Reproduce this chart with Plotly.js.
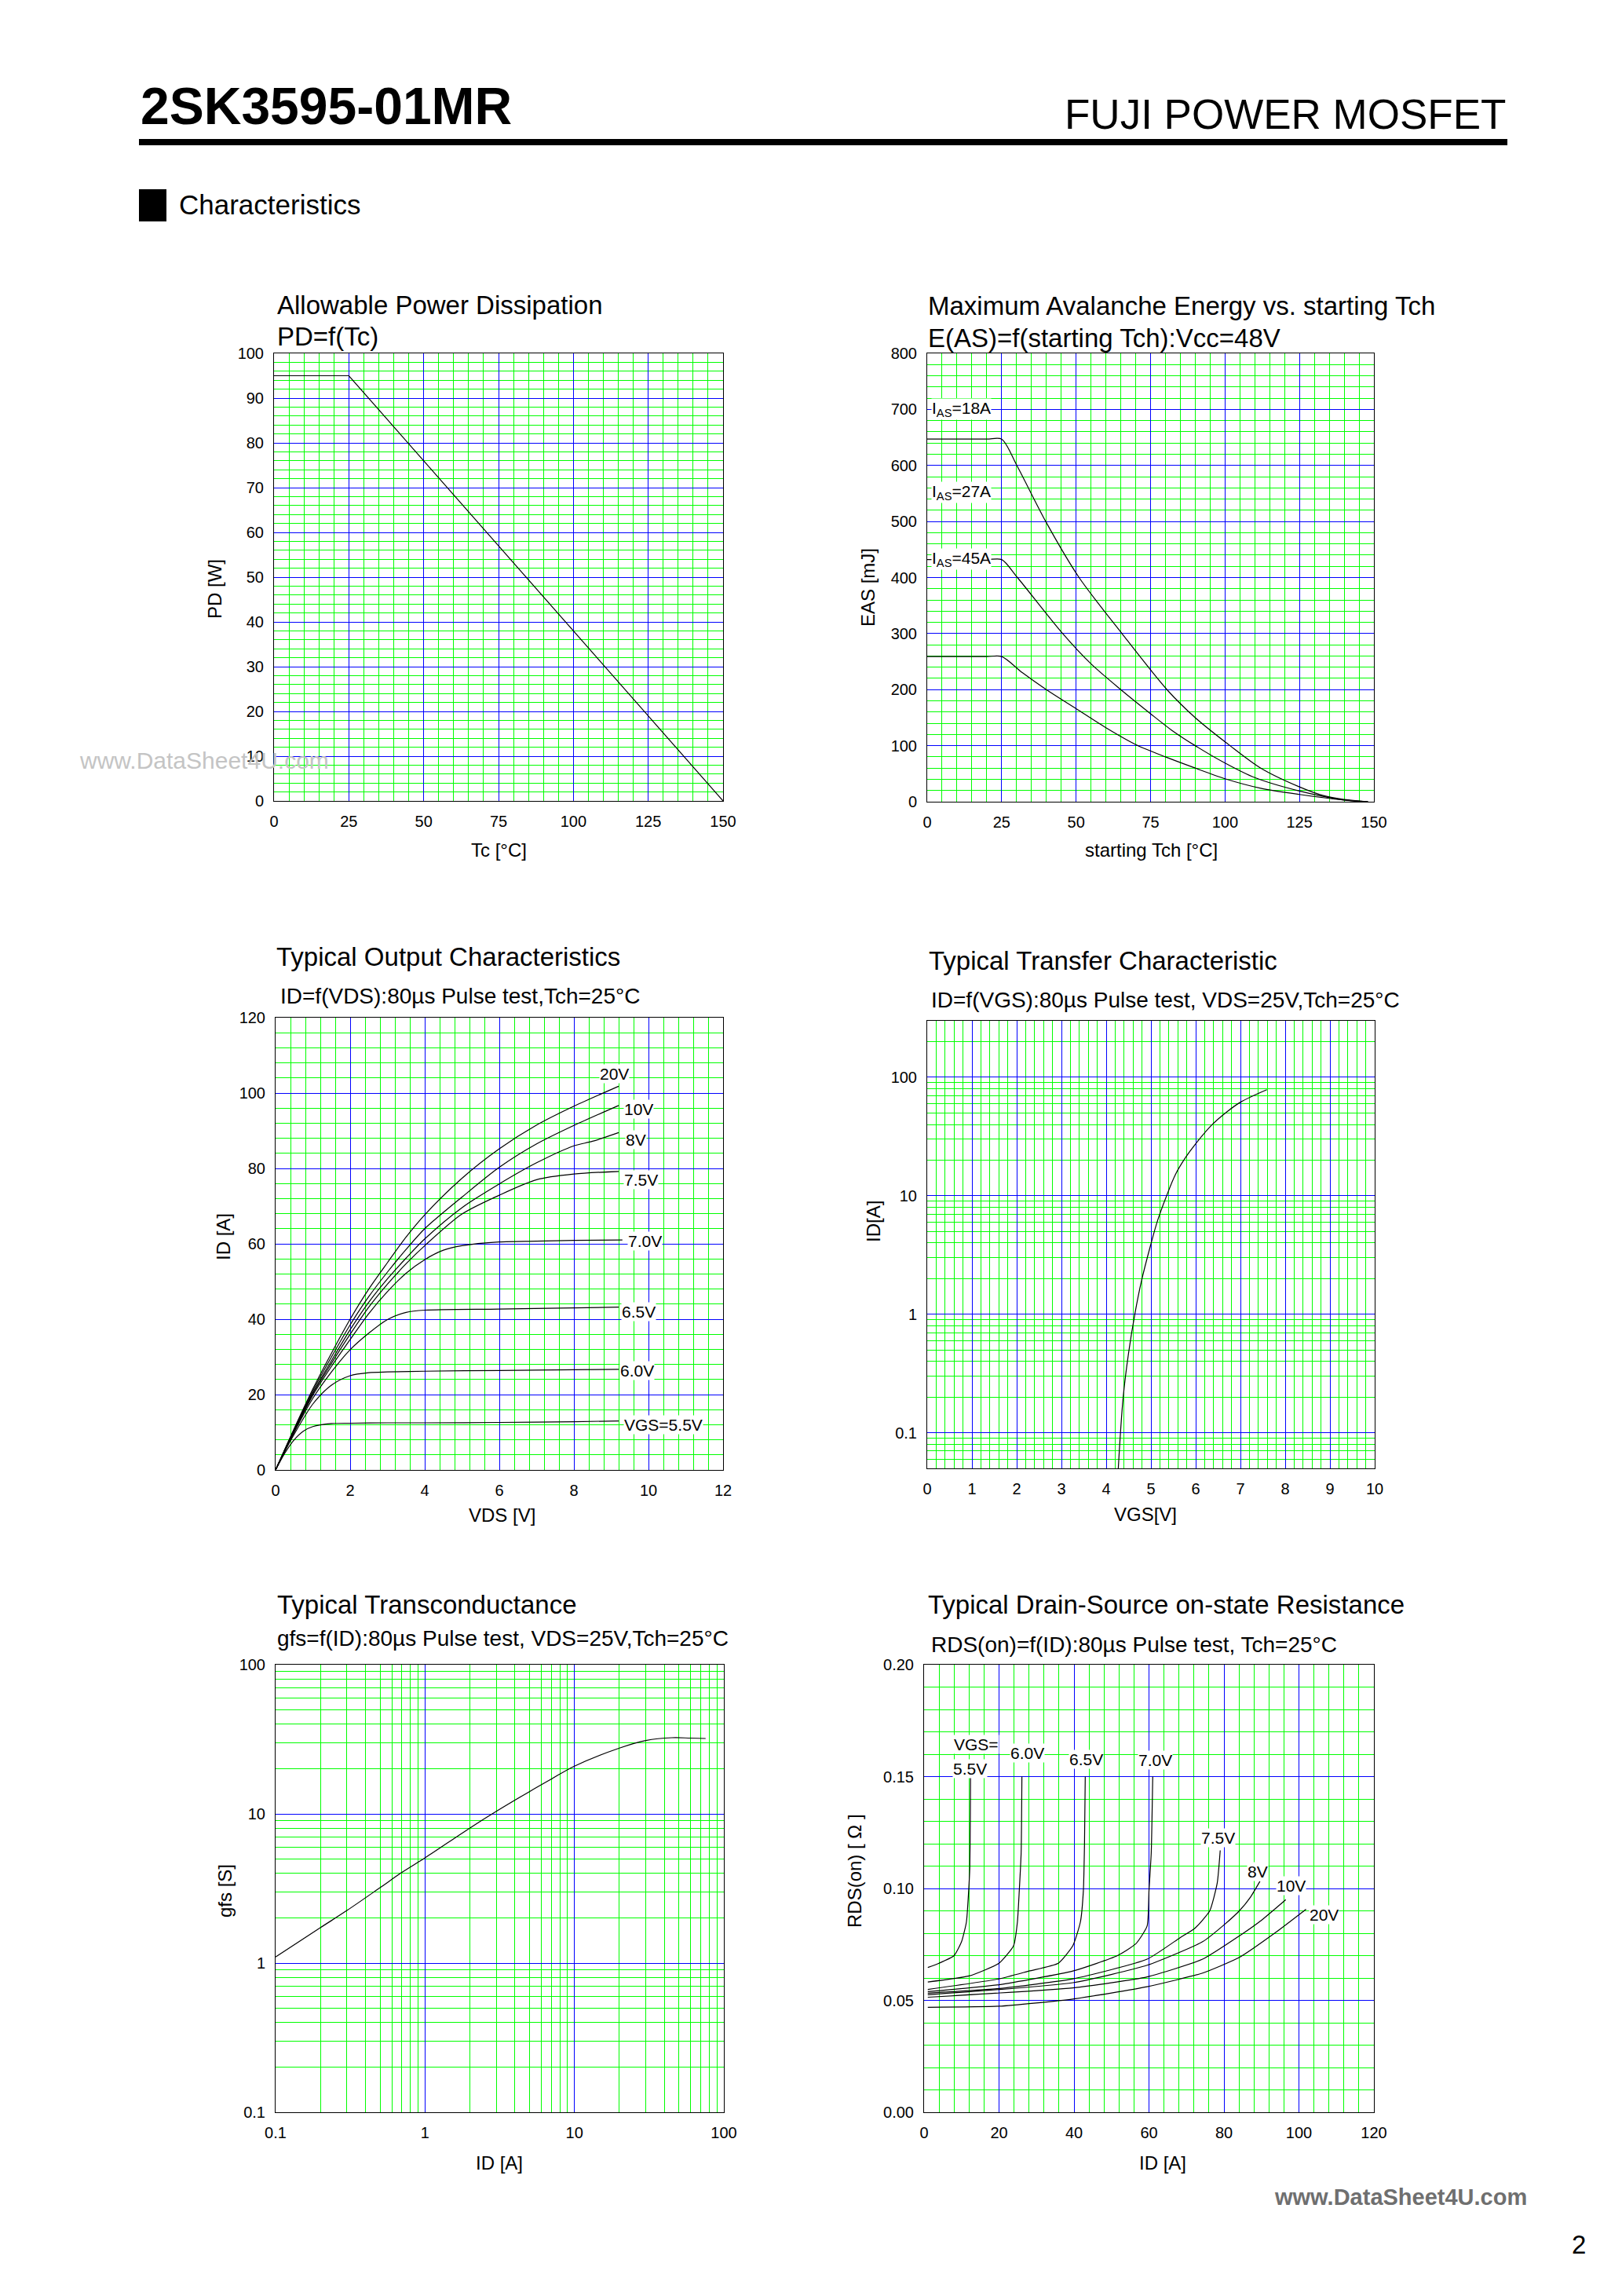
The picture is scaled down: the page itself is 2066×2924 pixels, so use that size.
<!DOCTYPE html>
<html><head><meta charset="utf-8">
<script src="https://cdn.plot.ly/plotly-3.0.1.min.js"></script>
<style>html,body{margin:0;padding:0;background:#fff;} #chart{width:2066px;height:2924px;}</style>
</head><body><div id="chart"></div>
<script>
// ---------------- DATA ----------------
// 1. Allowable Power Dissipation
const pdTc = [0, 25, 150];
const pdW  = [95, 95, 0];

// 2. Maximum Avalanche Energy vs starting Tch
const easLabels = ['I<sub>AS</sub>=18A', 'I<sub>AS</sub>=27A', 'I<sub>AS</sub>=45A'];
const eas18T = [0, 20, 25, 30.1, 39.8, 51, 65.4, 80.5, 90, 101.7, 112, 125, 133, 140, 148];
const eas18E = [647, 647, 647, 600, 500, 400, 300, 200, 150, 100, 60, 26.5, 11, 4, 0];
const eas27T = [0, 20, 25, 30.3, 45.5, 55, 65, 75, 82, 90, 100, 110, 125, 140, 148];
const eas27E = [432, 432, 432, 400, 300, 246, 200, 157, 128, 100, 69, 43, 19, 3, 0];
const eas45T = [0, 20, 25, 32, 40, 50, 60, 70, 80, 90, 100, 112, 125, 140, 148];
const eas45E = [259, 259, 259, 230, 200, 166, 132, 102, 80, 60, 41, 24, 13, 3, 0];

// 3. Typical Output Characteristics (VDS [V], ID [A])
const outLabels = ['VGS=5.5V', '6.0V', '6.5V', '7.0V', '7.5V', '8V', '10V', '20V'];
const outV55 = [0, 0.25, 0.5, 0.75, 1, 1.5, 2, 3, 4, 6, 8, 9.2];
const outI55 = [0, 4.5, 8, 10.3, 11.5, 12.3, 12.4, 12.5, 12.5, 12.6, 12.8, 13.0];
const outV60 = [0, 0.25, 0.5, 1, 1.5, 2, 2.5, 3, 4, 6, 8, 9.2];
const outI60 = [0, 5, 9.5, 17.5, 22.5, 25, 25.8, 26, 26.2, 26.4, 26.6, 26.7];
const outV65 = [0, 0.5, 1, 1.5, 2, 2.5, 3, 3.5, 4, 6, 8, 9.2];
const outI65 = [0, 10, 19, 26, 31.9, 36.3, 39.9, 41.8, 42.4, 42.7, 43, 43.2];
const outV70 = [0, 0.5, 1, 1.5, 2, 2.5, 3, 3.5, 4, 4.5, 5, 6, 7, 8, 9.3];
const outI70 = [0, 10.2, 19.8, 27.5, 34.6, 41.5, 47.3, 52.2, 55.8, 58.3, 59.5, 60.5, 60.7, 60.9, 61];
const outV75 = [0, 0.5, 1, 1.5, 2, 2.5, 3, 3.5, 4, 5, 6, 7, 8, 9.2];
const outI75 = [0, 10.4, 20.2, 28.3, 36, 43.2, 49.3, 54.7, 59.5, 67.9, 72.9, 77.0, 78.5, 79.2];
const outV80 = [0, 0.5, 1, 1.5, 2, 2.5, 3, 3.5, 4, 5, 6, 7, 8, 8.5, 9.2];
const outI80 = [0, 10.6, 20.5, 29, 37.2, 44.5, 50.7, 56.2, 61.3, 69.6, 75.9, 81.5, 86, 87.2, 89.5];
const outV10 = [0, 0.5, 1, 1.5, 2, 2.5, 3, 3.5, 4, 5, 6, 7, 8, 9.2];
const outI10 = [0, 10.8, 21, 30, 38.5, 46, 52.5, 58.5, 64, 72.4, 80.3, 86.5, 91.4, 96.7];
const outV20 = [0, 0.5, 1, 1.5, 2, 2.5, 3, 3.5, 4, 5, 6, 7, 8, 9.2];
const outI20 = [0, 11, 21.5, 31, 40, 48, 55, 61.8, 67.7, 77.4, 85.2, 91.5, 96.5, 101.8];

// 4. Typical Transfer Characteristic (VGS [V], ID [A])
const trVgs = [4.27, 4.38, 4.5, 4.64, 4.79, 4.99, 5.15, 5.35, 5.55, 5.79, 6.0, 6.36, 6.68, 7.0, 7.59];
const trId  = [0.05, 0.2, 0.47, 1.0, 1.92, 3.8, 6.2, 10, 15.2, 21.5, 27.5, 39.6, 50.5, 61.7, 78.7];

// 5. Typical Transconductance (ID [A], gfs [S])
const gfsId = [0.1, 0.2, 0.3, 0.5, 0.7, 1, 2, 3, 5, 7, 10, 20, 30, 45, 60, 75.5];
const gfsS  = [1.1, 1.73, 2.25, 3.2, 4.05, 5.07, 8.05, 10.4, 14.1, 17.1, 20.9, 27.6, 31.0, 32.4, 32.2, 32.0];

// 6. Typical Drain-Source on-state Resistance (ID [A], RDS(on) [ohm])
const rdsLabels = ['VGS=', '5.5V', '6.0V', '6.5V', '7.0V', '7.5V', '8V', '10V', '20V'];
const rds55I = [1, 4, 8, 10, 11.3, 11.9, 12.2, 12.35, 12.4];
const rds55R = [0.0647, 0.0666, 0.070, 0.0762, 0.085, 0.099, 0.109, 0.134, 0.15];
const rds60I = [1, 12, 20, 23.9, 24.9, 25.4, 25.9, 26.1];
const rds60R = [0.0582, 0.0609, 0.0666, 0.0745, 0.085, 0.099, 0.116, 0.15];
const rds65I = [1, 20, 28, 35.8, 39.7, 41.7, 42.5, 42.8, 43];
const rds65R = [0.0549, 0.0596, 0.0631, 0.0666, 0.0745, 0.085, 0.099, 0.12, 0.15];
const rds70I = [1, 20, 39.7, 51.6, 56.5, 59.5, 60, 60.6, 61];
const rds70R = [0.0539, 0.057, 0.0631, 0.070, 0.0753, 0.0832, 0.099, 0.116, 0.15];
const rds75I = [1, 20, 39.7, 59.5, 68.3, 72.3, 76.2, 78.2, 79];
const rds75R = [0.0532, 0.0553, 0.0596, 0.0684, 0.078, 0.0823, 0.090, 0.1024, 0.117];
const rds80I = [1, 39.7, 59.5, 74.3, 80.2, 84.1, 87.1, 89.6];
const rds80R = [0.0525, 0.0579, 0.0657, 0.0762, 0.084, 0.090, 0.0962, 0.1032];
const rds10I = [1, 39.7, 59.5, 74.3, 84.1, 90, 96.5];
const rds10R = [0.0514, 0.0556, 0.0605, 0.0684, 0.0788, 0.0858, 0.095];
const rds20I = [1, 20, 39.7, 59.5, 74.3, 84.1, 94, 101.9];
const rds20R = [0.0469, 0.0474, 0.0506, 0.0561, 0.0622, 0.0692, 0.0806, 0.0907];

// ---------------- LAYOUT HELPERS ----------------
const W = 2066, H = 2924;
const FONT = 'Liberation Sans, Arial, Helvetica, sans-serif';
const BLUE = '#0000ff', GREEN = '#00ff00';
const fx = p => p / W;
const fy = p => 1 - p / H;

function xax(px0, px1, o) {
  return Object.assign({
    domain: [fx(px0), fx(px1)], tick0: 0,
    showgrid: true, gridcolor: BLUE, gridwidth: 1,
    minor: {dtick: o.minor, showgrid: true, gridcolor: GREEN, gridwidth: 1, ticks: ''},
    showline: true, mirror: true, linecolor: '#000', linewidth: 1, zeroline: false,
    ticks: '', tickfont: {family: FONT, size: 20, color: '#000'}, ticklabelstandoff: 8,
    fixedrange: true
  }, o.extra || {});
}
function yax(py0, py1, o) {
  return Object.assign({
    domain: [fy(py1), fy(py0)], tick0: 0,
    showgrid: true, gridcolor: BLUE, gridwidth: 1,
    minor: {dtick: o.minor, showgrid: true, gridcolor: GREEN, gridwidth: 1, ticks: ''},
    showline: true, mirror: true, linecolor: '#000', linewidth: 1, zeroline: false,
    ticks: '', tickfont: {family: FONT, size: 20, color: '#000'}, ticklabelstandoff: 8,
    fixedrange: true
  }, o.extra || {});
}

function line(x, y, xa, ya, shape, sm) {
  return {x: x, y: y, xaxis: xa, yaxis: ya, type: 'scatter', mode: 'lines',
    line: {color: '#000', width: 1.2, shape: shape || 'linear', smoothing: sm || 0},
    showlegend: false, hoverinfo: 'skip'};
}

const traces = [
  line(pdTc, pdW, 'x', 'y'),
  line(eas18T, eas18E, 'x2', 'y2', 'spline', 0.8),
  line(eas27T, eas27E, 'x2', 'y2', 'spline', 0.8),
  line(eas45T, eas45E, 'x2', 'y2', 'spline', 0.8),
  line(outV55, outI55, 'x3', 'y3', 'spline', 0.8),
  line(outV60, outI60, 'x3', 'y3', 'spline', 0.8),
  line(outV65, outI65, 'x3', 'y3', 'spline', 0.8),
  line(outV70, outI70, 'x3', 'y3', 'spline', 0.8),
  line(outV75, outI75, 'x3', 'y3', 'spline', 0.8),
  line(outV80, outI80, 'x3', 'y3', 'spline', 0.8),
  line(outV10, outI10, 'x3', 'y3', 'spline', 0.8),
  line(outV20, outI20, 'x3', 'y3', 'spline', 0.8),
  line(trVgs, trId, 'x4', 'y4', 'spline', 1.0),
  line(gfsId, gfsS, 'x5', 'y5', 'spline', 1.0),
  line(rds55I, rds55R, 'x6', 'y6', 'spline', 0.5),
  line(rds60I, rds60R, 'x6', 'y6', 'spline', 0.5),
  line(rds65I, rds65R, 'x6', 'y6', 'spline', 0.5),
  line(rds70I, rds70R, 'x6', 'y6', 'spline', 0.5),
  line(rds75I, rds75R, 'x6', 'y6', 'spline', 0.5),
  line(rds80I, rds80R, 'x6', 'y6', 'spline', 0.5),
  line(rds10I, rds10R, 'x6', 'y6', 'spline', 0.5),
  line(rds20I, rds20R, 'x6', 'y6', 'spline', 0.5)
];

// paper-space text
function txt(text, px, py, size, anchor, extra) {
  return Object.assign({text: text, x: fx(px), y: fy(py), xref: 'paper', yref: 'paper',
    xanchor: anchor || 'left', yanchor: 'middle', showarrow: false,
    font: {family: FONT, size: size, color: '#000'}}, extra || {});
}
// data-space label with white background
function lbl(text, x, y, xa, ya, anchor) {
  return {text: text, x: x, y: y, xref: xa, yref: ya, xanchor: anchor || 'center', yanchor: 'middle',
    showarrow: false, bgcolor: '#ffffff', borderpad: 0,
    font: {family: FONT, size: 21, color: '#000'}};
}

// label placements (positions, not data)
const outLabelPos = [[10.4, 11.9], [9.69, 26.3], [9.74, 41.9], [9.91, 60.8], [9.79, 76.9], [9.66, 87.5], [9.74, 95.8], [9.09, 105.2]];
const easLabelPos = [[1.2, 700], [1.2, 552], [1.2, 433]];
const rdsLabelPos = [[14.0, 0.1643], [12.35, 0.1534], [27.6, 0.1604], [43.2, 0.1578], [61.6, 0.1573], [78.5, 0.1228], [89.1, 0.1076], [98, 0.1011], [106.7, 0.0881]];

const annotations = [
  txt('<b>2SK3595-01MR</b>', 177, 135, 66, 'left'),
  txt('FUJI POWER MOSFET', 1920, 145, 53, 'right'),
  txt('Characteristics', 226, 260, 35, 'left'),
  // chart titles
  txt('Allowable Power Dissipation', 351, 388, 33),
  txt('PD=f(Tc)', 351, 428, 33),
  txt('Maximum Avalanche Energy vs. starting Tch', 1180, 390, 33),
  txt('E(AS)=f(starting Tch):Vcc=48V', 1180, 430, 33),
  txt('Typical Output Characteristics', 350, 1218, 33),
  txt('ID=f(VDS):80µs Pulse test,Tch=25°C', 355, 1269, 28),
  txt('Typical Transfer Characteristic', 1181, 1223, 33),
  txt('ID=f(VGS):80µs Pulse test, VDS=25V,Tch=25°C', 1184, 1273, 28),
  txt('Typical Transconductance', 351, 2044, 33),
  txt('gfs=f(ID):80µs Pulse test, VDS=25V,Tch=25°C', 351, 2086, 28),
  txt('Typical Drain-Source on-state Resistance', 1180, 2044, 33),
  txt('RDS(on)=f(ID):80µs Pulse test, Tch=25°C', 1184, 2094, 28),
  // axis titles
  txt('Tc [°C]', 635, 1082, 24, 'center'),
  txt('PD [W]', 274, 750, 24, 'center', {textangle: -90}),
  txt('starting Tch [°C]', 1466, 1082, 24, 'center'),
  txt('EAS [mJ]', 1105, 748, 24, 'center', {textangle: -90}),
  txt('VDS [V]', 639, 1929, 24, 'center'),
  txt('ID [A]', 284, 1575, 24, 'center', {textangle: -90}),
  txt('VGS[V]', 1459, 1928, 24, 'center'),
  txt('ID[A]', 1112, 1556, 24, 'center', {textangle: -90}),
  txt('ID [A]', 636, 2754, 24, 'center'),
  txt('gfs [S]', 286, 2408, 24, 'center', {textangle: -90}),
  txt('ID [A]', 1481, 2754, 24, 'center'),
  txt('RDS(on) [ Ω ]', 1088, 2383, 24, 'center', {textangle: -90}),
  // watermarks & page number
  txt('www.DataSheet4U.com', 260, 968, 30, 'center', {font: {family: FONT, size: 30, color: '#c4c4c4'}}),
  txt('<b>www.DataSheet4U.com</b>', 1784, 2798, 29, 'center', {font: {family: FONT, size: 29, color: '#6f6f6f'}}),
  txt('2', 2011, 2858, 33, 'center')
];
outLabels.forEach((t, i) => annotations.push(lbl(t, outLabelPos[i][0], outLabelPos[i][1], 'x3', 'y3')));
easLabels.forEach((t, i) => annotations.push(lbl(t, easLabelPos[i][0], easLabelPos[i][1], 'x2', 'y2', 'left')));
rdsLabels.forEach((t, i) => annotations.push(lbl(t, rdsLabelPos[i][0], rdsLabelPos[i][1], 'x6', 'y6')));

const layout = {
  width: W, height: H, margin: {l: 0, r: 0, t: 0, b: 0},
  paper_bgcolor: '#ffffff', plot_bgcolor: '#ffffff',
  font: {family: FONT, color: '#000'},
  showlegend: false,
  xaxis:  xax(349, 921, {minor: 5, extra: {range: [0, 150], dtick: 25, anchor: 'y'}}),
  yaxis:  yax(450, 1020, {minor: 2, extra: {range: [0, 100], dtick: 10, anchor: 'x'}}),
  xaxis2: xax(1181, 1750, {minor: 5, extra: {range: [0, 150], dtick: 25, anchor: 'y2'}}),
  yaxis2: yax(450, 1021, {minor: 20, extra: {range: [0, 800], dtick: 100, anchor: 'x2'}}),
  xaxis3: xax(351, 921, {minor: 0.4, extra: {range: [0, 12], dtick: 2, anchor: 'y3'}}),
  yaxis3: yax(1296, 1872, {minor: 4, extra: {range: [0, 120], dtick: 20, anchor: 'x3'}}),
  xaxis4: xax(1181, 1751, {minor: 0.2, extra: {range: [0, 10], dtick: 1, anchor: 'y4'}}),
  yaxis4: yax(1300, 1870, {minor: 'D1', extra: {type: 'log', range: [Math.log10(0.05), Math.log10(300)], dtick: 1, tick0: 0, anchor: 'x4'}}),
  xaxis5: xax(351, 922, {minor: 'D1', extra: {type: 'log', range: [-1, 2], dtick: 1, tick0: 0, anchor: 'y5'}}),
  yaxis5: yax(2120, 2690, {minor: 'D1', extra: {type: 'log', range: [-1, 2], dtick: 1, tick0: 0, anchor: 'x5'}}),
  xaxis6: xax(1177, 1750, {minor: 4, extra: {range: [0, 120], dtick: 20, anchor: 'y6'}}),
  yaxis6: yax(2120, 2690, {minor: 0.01, extra: {range: [0, 0.2], dtick: 0.05, tickformat: '.2f', anchor: 'x6'}}),
  shapes: [
    {type: 'rect', xref: 'paper', yref: 'paper', x0: fx(177), x1: fx(1920), y0: fy(185), y1: fy(177), fillcolor: '#000', line: {width: 0}},
    {type: 'rect', xref: 'paper', yref: 'paper', x0: fx(177), x1: fx(212), y0: fy(282), y1: fy(241), fillcolor: '#000', line: {width: 0}}
  ],
  annotations: annotations
};

Plotly.newPlot('chart', traces, layout, {staticPlot: true, displayModeBar: false});
</script></body></html>
